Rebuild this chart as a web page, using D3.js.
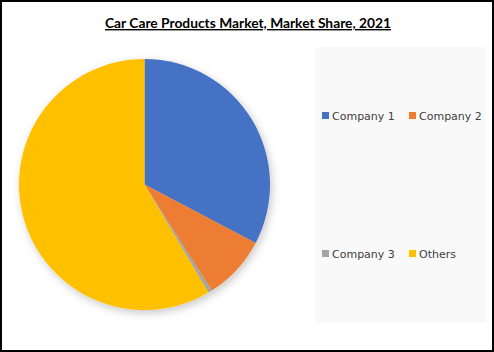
<!DOCTYPE html>
<html>
<head>
<meta charset="utf-8">
<script src="https://cdn.jsdelivr.net/npm/d3@7"></script>
<style>
  body { margin: 0; background: #fff; }
</style>
</head>
<body>
<div id="chart-container"></div>
<script>
// Market share data
const companies = ["Company 1", "Company 2", "Company 3", "Others"];
const shares = [32.7, 8.3, 0.5, 58.5];
const colors = ["#4472C4", "#ED7D31", "#A5A5A5", "#FFC000"];

const width = 494, height = 352;

const svg = d3.select("#chart-container").append("svg")
  .attr("width", width)
  .attr("height", height);

// soft shadow under the pie
const defs = svg.append("defs");
const f = defs.append("filter").attr("id", "shadow")
  .attr("x", "-20%").attr("y", "-20%").attr("width", "140%").attr("height", "140%");
f.append("feDropShadow")
  .attr("dx", 2).attr("dy", 3)
  .attr("stdDeviation", 4)
  .attr("flood-color", "#000")
  .attr("flood-opacity", 0.22);

svg.append("rect")
  .attr("width", width).attr("height", height)
  .attr("fill", "#fff");

// Title
const title = svg.append("text")
  .attr("x", 248)
  .attr("y", 28)
  .attr("text-anchor", "middle")
  .attr("textLength", 286)
  .attr("lengthAdjust", "spacingAndGlyphs")
  .style("font-family", "Lato, 'Open Sans', sans-serif")
  .style("font-size", "14px")
  .style("font-weight", "bold")
  .style("text-decoration", "underline")
  .attr("fill", "#000")
  .text("Car Care Products Market, Market Share, 2021");

// Pie
const cx = 144.5, cy = 184.5, r = 125.5;
const pie = d3.pie().sort(null).value(d => d.value);
const arc = d3.arc().innerRadius(0).outerRadius(r);
const data = companies.map((c, i) => ({ name: c, value: shares[i], color: colors[i] }));

const pg = svg.append("g")
  .attr("transform", `translate(${cx},${cy})`)
  .attr("filter", "url(#shadow)");

pg.selectAll("path")
  .data(pie(data))
  .join("path")
  .attr("d", arc)
  .attr("fill", d => d.data.color);

// Legend
svg.append("rect")
  .attr("x", 315).attr("y", 47)
  .attr("width", 171).attr("height", 276)
  .attr("fill", "#f9f9f9");

const legendX = [322, 409];
const legendY = [116, 254];
const lg = svg.append("g");
data.forEach((d, i) => {
  const x = legendX[i % 2], y = legendY[Math.floor(i / 2)];
  lg.append("rect")
    .attr("x", x).attr("y", y - 4)
    .attr("width", 7).attr("height", 7)
    .attr("fill", d.color);
  lg.append("text")
    .attr("x", x + 10).attr("y", y + 4)
    .style("font-family", "'DejaVu Sans', sans-serif")
    .style("font-size", "11px")
    .attr("fill", "#404040")
    .text(d.name);
});

// Outer border
svg.append("rect")
  .attr("x", 1).attr("y", 1)
  .attr("width", width - 2).attr("height", height - 2)
  .attr("fill", "none")
  .attr("stroke", "#000")
  .attr("stroke-width", 2);
</script>
</body>
</html>
